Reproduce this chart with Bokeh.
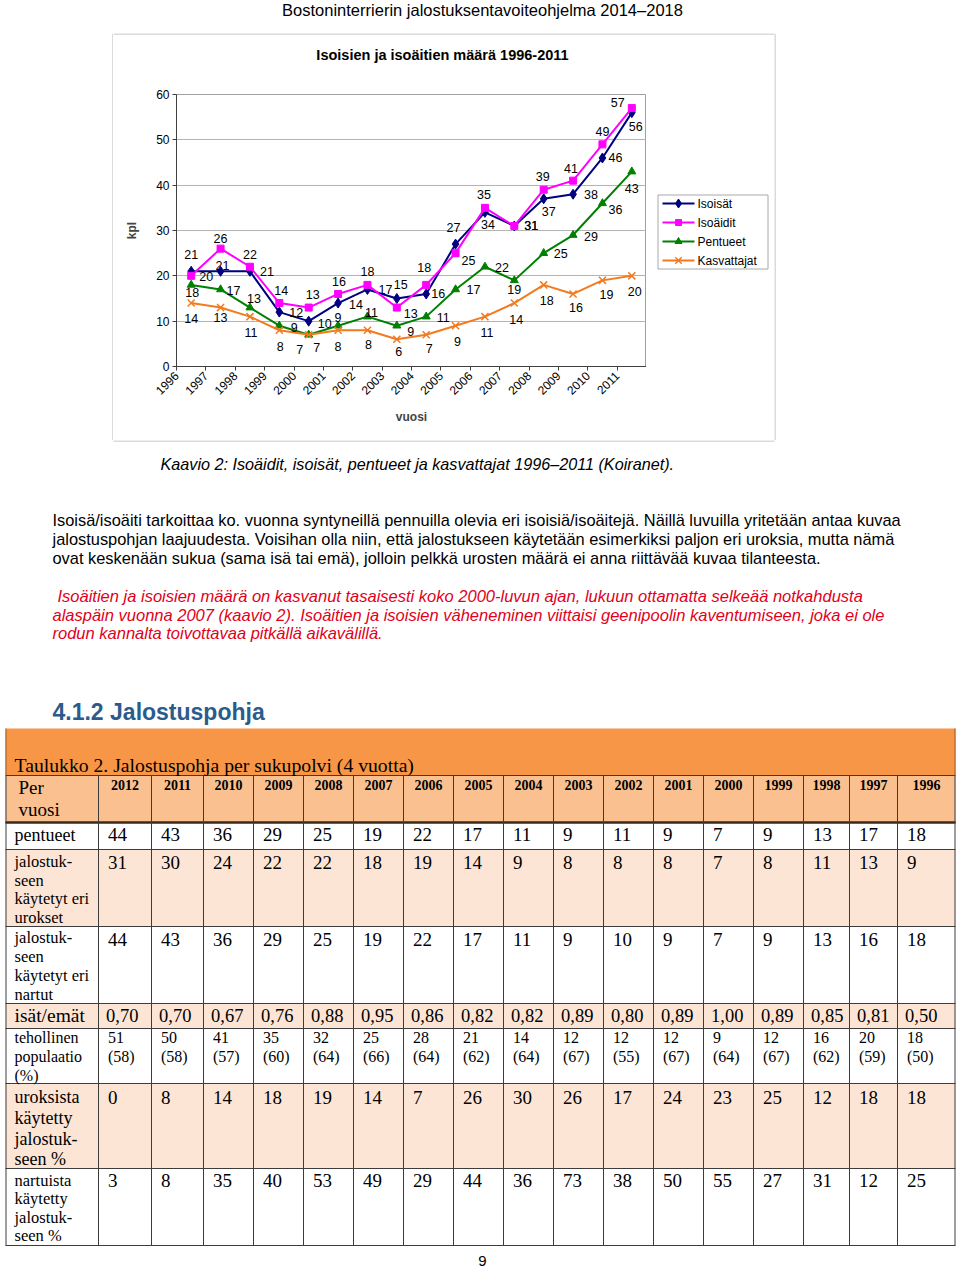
from bokeh.plotting import figure
from bokeh.models import Range1d, FixedTicker
from bokeh.layouts import column, row
from bokeh.embed import file_html
from bokeh.resources import INLINE
from bokeh.core.properties import value

# ---------------- data ----------------
YEARS = list(range(1996, 2012))
ISOISAT = [21, 21, 21, 12, 10, 14, 17, 15, 16, 27, 34, 31, 37, 38, 46, 56]
ISOAIDIT = [20, 26, 22, 14, 13, 16, 18, 13, 18, 25, 35, 31, 39, 41, 49, 57]
PENTUEET = [18, 17, 13, 9, 7, 9, 11, 9, 11, 17, 22, 19, 25, 29, 36, 43]
KASVATTAJAT = [14, 13, 11, 8, 7, 8, 8, 6, 7, 9, 11, 14, 18, 16, 19, 20]
SERIES_NAMES = ["Isoisät", "Isoäidit", "Pentueet", "Kasvattajat"]

TABLE_YEARS = [2012, 2011, 2010, 2009, 2008, 2007, 2006, 2005, 2004, 2003,
               2002, 2001, 2000, 1999, 1998, 1997, 1996]
T_PENTUEET = [44, 43, 36, 29, 25, 19, 22, 17, 11, 9, 11, 9, 7, 9, 13, 17, 18]
T_UROKSET = [31, 30, 24, 22, 22, 18, 19, 14, 9, 8, 8, 8, 7, 8, 11, 13, 9]
T_NARTUT = [44, 43, 36, 29, 25, 19, 22, 17, 11, 9, 10, 9, 7, 9, 13, 16, 18]
T_ISAT_EMAT = [0.70, 0.70, 0.67, 0.76, 0.88, 0.95, 0.86, 0.82, 0.82, 0.89,
               0.80, 0.89, 1.00, 0.89, 0.85, 0.81, 0.50]
T_NE = [51, 50, 41, 35, 32, 25, 28, 21, 14, 12, 12, 12, 9, 12, 16, 20, 18]
T_NE_PCT = [58, 58, 57, 60, 64, 66, 64, 62, 64, 67, 55, 67, 64, 67, 62, 59, 50]
T_UROKSISTA = [0, 8, 14, 18, 19, 14, 7, 26, 30, 26, 17, 24, 23, 25, 12, 18, 18]
T_NARTUISTA = [3, 8, 35, 40, 53, 49, 29, 44, 36, 73, 38, 50, 55, 27, 31, 12, 25]

ROW_LABELS = [["pentueet"],
              ["jalostuk-", "seen", "käytetyt eri", "urokset"],
              ["jalostuk-", "seen", "käytetyt eri", "nartut"],
              ["isät/emät"],
              ["tehollinen", "populaatio", "(%)"],
              ["uroksista", "käytetty", "jalostuk-", "seen %"],
              ["nartuista", "käytetty", "jalostuk-", "seen %"]]

HEADER = "Bostoninterrierin jalostuksentavoiteohjelma 2014–2018"
CHART_TITLE = "Isoisien ja isoäitien määrä 1996-2011"
CAPTION = "Kaavio 2: Isoäidit, isoisät, pentueet ja kasvattajat 1996–2011 (Koiranet)."
BODY = ["Isoisä/isoäiti tarkoittaa ko. vuonna syntyneillä pennuilla olevia eri isoisiä/isoäitejä. Näillä luvuilla yritetään antaa kuvaa",
        "jalostuspohjan laajuudesta. Voisihan olla niin, että jalostukseen käytetään esimerkiksi paljon eri uroksia, mutta nämä",
        "ovat keskenään sukua (sama isä tai emä), jolloin pelkkä urosten määrä ei anna riittävää kuvaa tilanteesta."]
RED = ["Isoäitien ja isoisien määrä on kasvanut tasaisesti koko 2000-luvun ajan, lukuun ottamatta selkeää notkahdusta",
       "alaspäin vuonna 2007 (kaavio 2). Isoäitien ja isoisien väheneminen viittaisi geenipoolin kaventumiseen, joka ei ole",
       "rodun kannalta toivottavaa pitkällä aikavälillä."]
HEADING = "4.1.2 Jalostuspohja"
TABLE_TITLE = "Taulukko 2. Jalostuspohja per sukupolvi (4 vuotta)"

# ---------------- styles ----------------
SANS = "Liberation Sans"
NARROW = "Liberation Sans Narrow, Liberation Sans"
SERIF = "Liberation Serif"
NAVY, MAGENTA, GREEN, ORANGE = "#000080", "#FF00FF", "#008000", "#F27A1F"
BOX = "#b8b8b8"

OFF_ISOISAT = [(0, -17), (2, -6), (17, 0), (17, 0), (16, 2), (18, 1), (18, 0), (4, -14),
               (12, 0), (-2, -17), (3, 12), (17, 0), (5, 13), (18, 0), (13, 0), (4, 14)]
OFF_ISOAIDIT = [(15, 1), (0, -10), (0, -12), (2, -13), (4, -13), (1, -12), (0, -13), (14, 6),
                (-2, -17), (13, 7), (-1, -13), (17, 0), (-1, -13), (-2, -12), (0, -13), (-14, -6)]
OFF_PENTUEET = [(1, 8), (13, 1), (4, -9), (15, 2), (8, 13), (0, -8), (4, -4), (14, 6),
                (17, 1), (18, 0), (17, 1), (0, 9), (17, 0), (18, 1), (13, 6), (0, 17)]
OFF_KASV = [(0, 15), (0, 10), (1, 16), (1, 16), (-9, 15), (0, 16), (1, 14), (2, 12),
            (3, 14), (2, 16), (2, 16), (2, 16), (3, 16), (3, 14), (4, 14), (3, 16)]


def blank(w, h, x0, x1, ytop, ybot, **kw):
    f = figure(width=w, height=h, x_range=Range1d(x0, x1), y_range=Range1d(ybot, ytop),
               output_backend="svg", toolbar_location=None,
               x_axis_location=None, y_axis_location=None, min_border=0, **kw)
    f.outline_line_color = None
    f.grid.visible = False
    f.background_fill_color = "white"
    f.border_fill_color = "white"
    return f


def txt(f, xs, ys, ss, size, font=SANS, style="normal", color="black", align="left"):
    f.text(x=xs, y=ys, text=ss, text_font=value(font), text_font_size=f"{size}px",
           text_font_style=style, text_color=color, text_align=align, text_baseline="middle")


# ---------------- top header ----------------
top = blank(960, 33, 0, 960, 0, 33)
txt(top, [482], [9.5], [HEADER], 16.5, font=NARROW, align="center")

# ---------------- chart box pieces ----------------
left_fig = blank(113, 407, 0, 113, 33, 440)
left_fig.segment(x0=[112.5], y0=[33], x1=[112.5], y1=[440], line_color=BOX, line_width=1)
right_fig = blank(186, 407, 774, 960, 33, 440)
right_fig.segment(x0=[774.5], y0=[33], x1=[774.5], y1=[440], line_color=BOX, line_width=1)

title_fig = blank(661, 40, 113, 774, 33, 73)
title_fig.segment(x0=[113], y0=[33.5], x1=[774], y1=[33.5], line_color=BOX, line_width=1)
txt(title_fig, [442], [54], [CHART_TITLE], 14.5, style="bold", align="center")

# ---------------- chart ----------------
n = len(YEARS)
xs = [i + 0.5 for i in range(n)]
p = figure(width=533, height=367, x_range=Range1d(0, n), y_range=Range1d(0, 60),
           output_backend="svg", toolbar_location=None,
           min_border_left=63, min_border_right=0, min_border_top=21, min_border_bottom=74)
p.background_fill_color = "white"
p.border_fill_color = "white"
p.outline_line_color = "#a0a0a0"

p.xgrid.visible = False
p.ygrid.grid_line_color = "#b4b4b4"
p.ygrid.grid_line_width = 1

p.yaxis.ticker = FixedTicker(ticks=[0, 10, 20, 30, 40, 50, 60])
p.xaxis.ticker = FixedTicker(ticks=list(range(n + 1)))
overrides = {i: str(y) for i, y in enumerate(YEARS)}
overrides[n] = ""
p.xaxis.major_label_overrides = overrides
p.xaxis.major_label_orientation = 0.785398
for ax in (p.xaxis[0], p.yaxis[0]):
    ax.axis_line_color = "#404040"
    ax.major_tick_line_color = "#404040"
    ax.major_tick_out = 4
    ax.major_tick_in = 0
    ax.minor_tick_line_color = None
    ax.major_label_text_font = SANS
    ax.major_label_text_font_size = "12px"
    ax.major_label_text_color = "black"
    ax.axis_label_text_font = SANS
    ax.axis_label_text_font_size = "12px"
    ax.axis_label_text_font_style = "bold"
    ax.major_label_standoff = 3
p.xaxis.axis_label = "vuosi"
p.xaxis.axis_label_standoff = 8
p.yaxis.axis_label = "kpl"
p.yaxis.axis_label_standoff = 14

series = [(SERIES_NAMES[0], ISOISAT, NAVY, "diamond", 10, OFF_ISOISAT),
          (SERIES_NAMES[1], ISOAIDIT, MAGENTA, "square", 7, OFF_ISOAIDIT),
          (SERIES_NAMES[2], PENTUEET, GREEN, "triangle", 8, OFF_PENTUEET),
          (SERIES_NAMES[3], KASVATTAJAT, ORANGE, "x", 10, OFF_KASV)]


def marker(f, x, y, mk, sz, col):
    if mk == "x":
        f.scatter(x, y, marker=mk, size=sz, line_color=col, line_width=1.5)
    else:
        f.scatter(x, y, marker=mk, size=sz, fill_color=col, line_color=col)


for name, vals, col, mk, sz, offs in series:
    p.line(xs, vals, line_color=col, line_width=2)
    marker(p, xs, vals, mk, sz, col)

for name, vals, col, mk, sz, offs in series:
    p.text(x=xs, y=vals, text=[str(v) for v in vals],
           x_offset=[o[0] for o in offs], y_offset=[o[1] for o in offs],
           text_font=value(SANS), text_font_size="12.5px", text_color="black",
           text_align="center", text_baseline="middle")

# ---------------- legend panel (its frame is aligned with the plot frame: y 94..366) ----------------
leg = blank(128, 367, 646, 774, 94, 366, min_border_top=21, min_border_bottom=74)
leg.quad(left=[657.5], right=[767.5], top=[194.5], bottom=[268.5], fill_color="white",
         line_color="#a8a8a8", line_width=1)
ly = [203, 222, 241, 260]
for (name, vals, col, mk, sz, offs), yy in zip(series, ly):
    leg.segment(x0=[662], y0=[yy], x1=[694], y1=[yy], line_color=col, line_width=2)
    marker(leg, [678], [yy], mk, sz - 1, col)
txt(leg, [697] * 4, ly, [s[0] for s in series], 12)

chart_col = column(title_fig, row(p, leg, spacing=0), spacing=0)
mid = row(left_fig, chart_col, right_fig, spacing=0)

# ---------------- bottom part ----------------
b = blank(960, 829, 0, 960, 440, 1269)
b.segment(x0=[113], y0=[440.5], x1=[774], y1=[440.5], line_color=BOX, line_width=1)
txt(b, [160], [463], [CAPTION], 16.2, style="italic")
txt(b, [52, 52, 52], [519, 538, 557], BODY, 16.4, font=NARROW)
txt(b, [57, 52, 52], [595, 614, 632], RED, 16.5, font=NARROW, style="italic", color="#E2001A")
txt(b, [52], [711], [HEADING], 23, style="bold", color="#2B5B8C")

# table geometry
col_edges = [98, 151, 203, 253, 303, 353, 403, 453, 503, 553, 603, 653, 703, 753, 803, 849, 897, 955]
tleft, tright = 5, 955
row_edges = [822, 849, 926, 1003, 1028, 1083, 1168, 1245]
fills = ["white", "#FDE5D5", "white", "#FDE5D5", "white", "#FDE5D5", "white"]

b.quad(left=[tleft], right=[tright], top=[728], bottom=[775], fill_color="#F79646", line_color=None)
b.quad(left=[tleft], right=[tright], top=[775], bottom=[822], fill_color="#FAC08F", line_color=None)
b.quad(left=[tleft] * 7, right=[tright] * 7, top=row_edges[:-1], bottom=row_edges[1:],
       fill_color=fills, line_color=None)

hy = [775] + row_edges
b.segment(x0=[tleft] * len(hy), y0=hy, x1=[tright] * len(hy), y1=hy, line_color="#3c3c3c", line_width=1)
b.segment(x0=[tleft], y0=[822], x1=[tright], y1=[822], line_color="#3a2a1a", line_width=2.5)
vx = [tleft + 0.5] + col_edges[:-1] + [tright - 0.5]
b.segment(x0=vx, y0=[775] * len(vx), x1=vx, y1=[1245] * len(vx), line_color="#3c3c3c", line_width=1)
b.segment(x0=[tleft + 0.5, tright - 0.5], y0=[728, 728], x1=[tleft + 0.5, tright - 0.5], y1=[775, 775],
          line_color="#a05a20", line_width=1)

txt(b, [14], [764], [TABLE_TITLE], 19.7, font=SERIF)
txt(b, [18, 18], [787, 809], ["Per", "vuosi"], 19, font=SERIF)
centers = [(col_edges[i] + col_edges[i + 1]) / 2 for i in range(len(TABLE_YEARS))]
txt(b, centers, [784] * len(centers), [str(y) for y in TABLE_YEARS], 14, font=SERIF,
    style="bold", align="center")

label_ys = [[834], [861, 880, 898, 917], [937, 956, 975, 994], [1015],
            [1037, 1056, 1075], [1096, 1117, 1138, 1158], [1180, 1198, 1217, 1235]]
label_sizes = [18, 16.5, 16.5, 19.5, 16, 18, 16.5]
for labs, ys_, sz in zip(ROW_LABELS, label_ys, label_sizes):
    txt(b, [14] * len(labs), ys_, labs, sz, font=SERIF)

lefts = [c + 9.5 for c in col_edges[:-1]]
k = len(lefts)
txt(b, lefts, [834] * k, [str(v) for v in T_PENTUEET], 19, font=SERIF)
txt(b, lefts, [862] * k, [str(v) for v in T_UROKSET], 19, font=SERIF)
txt(b, lefts, [939] * k, [str(v) for v in T_NARTUT], 19, font=SERIF)
txt(b, [c - 2 for c in lefts], [1015] * k, [f"{v:.2f}".replace(".", ",") for v in T_ISAT_EMAT], 18.5, font=SERIF)
txt(b, lefts, [1037] * k, [str(v) for v in T_NE], 16, font=SERIF)
txt(b, lefts, [1056] * k, [f"({v})" for v in T_NE_PCT], 16, font=SERIF)
txt(b, lefts, [1097] * k, [str(v) for v in T_UROKSISTA], 19, font=SERIF)
txt(b, lefts, [1180] * k, [str(v) for v in T_NARTUISTA], 19, font=SERIF)

txt(b, [482], [1260], ["9"], 15, align="center")

page = column(top, mid, b, spacing=0)
open("out.html", "w").write(file_html(page, INLINE))
